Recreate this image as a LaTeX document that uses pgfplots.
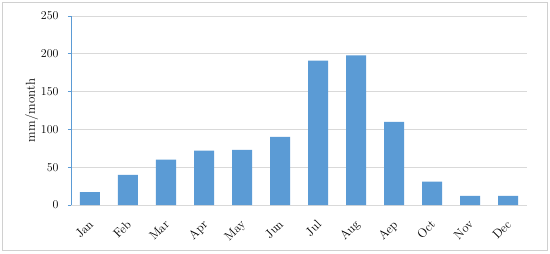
\documentclass[border=0pt]{standalone}
\usepackage{mathpazo}
\usepackage{pgfplots}
\pgfplotsset{compat=1.18}
\definecolor{barblue}{HTML}{5B9BD5}
\definecolor{gridgray}{HTML}{D9D9D9}
\definecolor{framegray}{HTML}{D0D0D0}
\begin{document}
\begin{tikzpicture}
\useasboundingbox (-71bp,-49bp) rectangle (479bp,205bp);
\draw[framegray, line width=1bp] (-68bp,-45bp) rectangle (476bp,202bp);
\begin{axis}[
  at={(0,0)}, anchor=south west,
  scale only axis,
  width=456bp, height=189bp,
  xmin=-0.5, xmax=11.5,
  ymin=0, ymax=250,
  ytick={0,50,100,150,200,250},
  xtick={0,...,11},
  xticklabels={Jan,Feb,Mar,Apr,May,Jun,Jul,Aug,Aep,Oct,Nov,Dec},
  x tick label style={rotate=45, anchor=north east, font=\fontsize{12.5}{14}\selectfont, yshift=-3bp, xshift=-6bp},
  y tick label style={font=\fontsize{12}{14}\selectfont, xshift=-6bp},
  /pgf/number format/assume math mode=true,
  ylabel={mm/month},
  ylabel style={font=\fontsize{13}{15}\selectfont, yshift=-4bp},
  ymajorgrids,
  grid style={gridgray, line width=0.8bp},
  axis x line*=bottom,
  axis y line*=left,
  x axis line style={draw=gridgray, line width=0.8bp, -},
  y axis line style={draw=barblue, line width=0.8bp, -},
  xtick style={draw=none},
  ytick style={draw=barblue, line width=0.8bp},
  tick align=outside,
  major tick length=3bp,
]
\addplot[ybar, bar width=20bp, fill=barblue, draw=none] coordinates {
(0,17) (1,40) (2,60) (3,72) (4,73) (5,90) (6,191) (7,198) (8,110) (9,31) (10,12) (11,12)
};
\end{axis}
\end{tikzpicture}
\end{document}
